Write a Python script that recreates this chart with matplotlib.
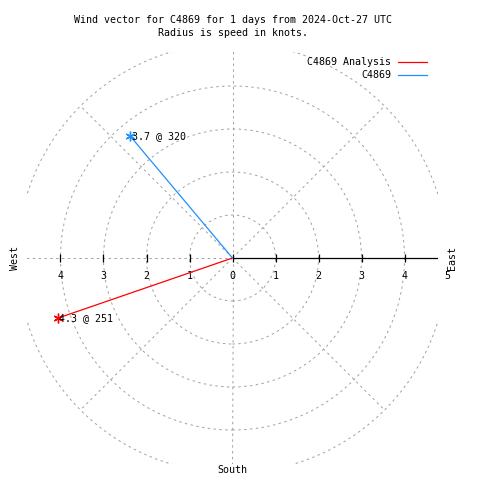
import numpy as np
import matplotlib
matplotlib.use('Agg')
import matplotlib.pyplot as plt
from matplotlib.patches import Circle
from matplotlib.lines import Line2D

# wind data
names = ['C4869 Analysis', 'C4869']
speeds = [4.3, 3.7]          # knots
dirs = [251, 320]            # degrees, compass
colors = ['#ff0000', '#1e90ff']
rings = [1, 2, 3, 4, 5]
spokes = [0, 45, 90, 135, 180, 225, 270, 315]
left_ticks = [-4, -3, -2, -1]
right_ticks = [0, 1, 2, 3, 4, 5]

title = 'Wind vector for C4869 for 1 days from 2024-Oct-27 UTC\nRadius is speed in knots.'

plt.rcParams['font.family'] = ['DejaVu Sans Mono']
fs = 7.2
W = 480.0
px = 43.0   # pixels per knot
cx, cy = 232.5, 258.0

fig = plt.figure(figsize=(4.8, 4.8), dpi=100)
l, r, t, b = 27, 438, 52, 464
ax = fig.add_axes([l / W, 1 - b / W, (r - l) / W, (b - t) / W])
ax.set_xlim((l - cx) / px, (r - cx) / px)
ax.set_ylim((cy - b) / px, (cy - t) / px)
ax.axis('off')

grid_kw = dict(color='#a0a0a0', lw=0.7, linestyle=(0, (2.5, 3.5)))
for rr in rings:
    ax.add_patch(Circle((0, 0), rr, fill=False, **grid_kw))
for a in spokes:
    th = np.radians(a)
    ax.plot([0, rings[-1] * np.cos(th)], [0, rings[-1] * np.sin(th)], **grid_kw)

# r axis
ax.plot([0, 10], [0, 0], color='black', lw=0.9, zorder=3)
ticks = left_ticks + right_ticks[:-1]
ax.vlines(ticks, -0.09, 0.09, color='black', lw=0.9, zorder=3)
for v in left_ticks:
    ax.text(v, -0.42, str(-v), fontsize=fs, ha='center', va='center', clip_on=False)
for v in right_ticks:
    ax.text(v, -0.42, str(v), fontsize=fs, ha='center', va='center', clip_on=False)

# vectors
for n, s, d, c in zip(names, speeds, dirs, colors):
    x = s * np.sin(np.radians(d))
    y = s * np.cos(np.radians(d))
    ax.plot([0, x], [0, y], color=c, lw=0.9, zorder=4)
    ax.plot([x], [y], marker=(6, 2, 0), color=c, ms=7, mew=1.0, zorder=5, clip_on=False)
    ax.annotate('%.1f @ %d' % (s, d), (x, y), xytext=(1, 0), textcoords='offset points',
                fontsize=fs, ha='left', va='center', zorder=6)

# compass labels
fig.text(15 / W, 1 - cy / W, 'West', rotation=90, fontsize=fs, ha='center', va='center')
fig.text(452 / W, 1 - cy / W, 'East', rotation=90, fontsize=fs, ha='center', va='center')
fig.text(cx / W, 1 - 470 / W, 'South', fontsize=fs, ha='center', va='center')

fig.text(cx / W, 1 - 26.5 / W, title, fontsize=fs, ha='center', va='center', linespacing=1.45)

# legend
for i, (n, c) in enumerate(zip(names, colors)):
    yy = 1 - (62 + 13 * i) / W
    fig.text(391 / W, yy, n, fontsize=fs, ha='right', va='center')
    fig.add_artist(Line2D([398 / W, 427 / W], [yy, yy], color=c, lw=0.9))

fig.savefig('out.png', dpi=100)
